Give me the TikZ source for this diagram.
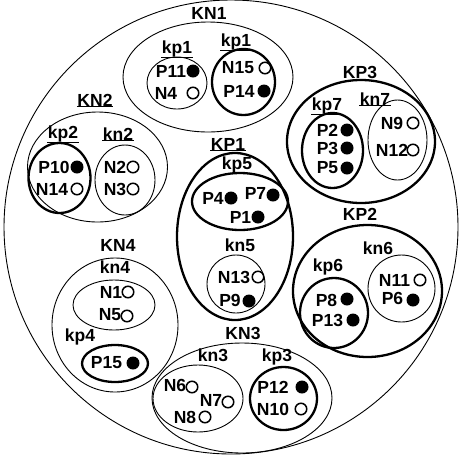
\documentclass[tikz,border=0pt]{standalone}
\usepackage{fontspec}
\setmainfont{Liberation Sans}
\usetikzlibrary{shapes.geometric}
\tikzset{
  thinl/.style={line width=0.9pt},
  thickl/.style={line width=2.3pt},
  ell/.style={ellipse, inner sep=0pt, outer sep=0pt},
  thinell/.style={ell, draw, thinl},
  thickell/.style={ell, draw, thickl},
  txt/.style={font=\fontsize{17.5}{19}\selectfont\bfseries, inner sep=0.4pt},
  fdot/.style={circle, fill=black, inner sep=0pt, minimum size=13pt},
  odot/.style={circle, draw, line width=1.5pt, inner sep=0pt, minimum size=11.5pt},
}
\newcommand{\myell}[6]{\node[#1, minimum width=#4pt, minimum height=#5pt] (#6) at (#2,#3) {};}
\newcommand{\mylab}[4]{\node[txt] (#1) at (#2,#3) {#4};}
\newcommand{\myul}[1]{\draw[thinl] (#1.south west) -- (#1.south east);}
\newcommand{\myitem}[7]{\node[txt] (#1) at (#2,#3) {#1}; \node[#4] (d#1) at (#5,#6) {};}
\begin{document}
\begin{tikzpicture}[x=1pt,y=-1pt]
\useasboundingbox (0,0) rectangle (463,459);
\node[circle, draw, thinl, inner sep=0pt, minimum size=454pt] (outer) at (231,227) {};
% KN1
\myell{thinell}{208}{77}{170}{110}{KN1}
\mylab{lKN1}{209}{13}{KN1}
\myell{thinell}{177}{83}{60}{52}{kp1a}
\mylab{lkp1a}{177}{49}{kp1}\myul{lkp1a}
\myell{thickell}{243.5}{82}{63}{66}{kp1b}
\mylab{lkp1b}{236}{42}{kp1}\myul{lkp1b}
\myitem{P11}{171}{71}{fdot}{193}{71}{}
\myitem{N4}{166}{93}{odot}{193}{93}{}
\myitem{N15}{238}{68}{odot}{265}{68}{}
\myitem{P14}{239}{91}{fdot}{264}{91}{}
% KN2
\myell{thinell}{97.5}{167}{140}{110}{KN2}
\mylab{lKN2}{95}{100}{KN2}\myul{lKN2}
\myell{thickell}{59.5}{178}{62}{70}{kp2}
\mylab{lkp2}{63}{134}{kp2}\myul{lkp2}
\myell{thinell}{125}{180}{60}{70}{kn2}
\mylab{lkn2}{118}{134}{kn2}\myul{lkn2}
\myitem{P10}{54}{167}{fdot}{77}{167}{}
\myitem{N14}{52}{189}{odot}{77}{189}{}
\myitem{N2}{115}{167}{odot}{133}{167}{}
\myitem{N3}{115}{189}{odot}{133}{189}{}
% KP3
\myell{thickell}{361}{141.5}{148}{123}{KP3}
\mylab{lKP3}{360}{72}{KP3}
\myell{thickell}{332.5}{150.5}{61}{75}{kp7}
\mylab{lkp7}{327}{106}{kp7}\myul{lkp7}
\myell{thinell}{397.5}{140}{59}{80}{kn7}
\mylab{lkn7}{375}{99}{kn7}\myul{lkn7}
\myitem{P2}{327.5}{130}{fdot}{347}{130}{}
\myitem{P3}{327.5}{148}{fdot}{347}{148}{}
\myitem{P5}{327.5}{168}{fdot}{347}{168}{}
\myitem{N9}{392}{123}{odot}{413}{123}{}
\myitem{N12}{392}{150}{odot}{413}{150}{}
% KP1
\myell{thickell}{235}{236.5}{116}{167}{KP1}
\mylab{lKP1}{228}{144}{KP1}\myul{lKP1}
\myell{thickell}{240}{201.5}{96}{57}{kp5}
\mylab{lkp5}{237}{165}{kp5}
\myell{thinell}{236}{284}{58}{58}{kn5}
\mylab{lkn5}{240}{245}{kn5}
\myitem{P4}{213}{198}{fdot}{231}{198}{}
\myitem{P7}{255.5}{193}{fdot}{273}{195}{}
\myitem{P1}{240.5}{217}{fdot}{258}{217}{}
\myitem{N13}{234}{277}{odot}{258}{277}{}
\myitem{P9}{230}{300}{fdot}{249}{301}{}
% KP2
\myell{thickell}{367.5}{291}{149}{132}{KP2}
\mylab{lKP2}{360}{214}{KP2}
\myell{thinell}{401.5}{288.5}{67}{67}{kn6}
\mylab{lkn6}{378}{248}{kn6}
\myell{thickell}{334}{313}{68}{70}{kp6}
\mylab{lkp6}{328}{267}{kp6}
\myitem{N11}{394.5}{280}{odot}{420}{280}{}
\myitem{P6}{392.5}{298}{fdot}{413}{300}{}
\myitem{P8}{326.5}{300}{fdot}{347}{299}{}
\myitem{P13}{327.5}{320}{fdot}{353}{320}{}
% KN4
\myell{thinell}{115}{325}{126}{134}{KN4}
\mylab{lKN4}{118}{245}{KN4}
\myell{thinell}{114}{305}{82}{50}{kn4}
\mylab{lkn4}{115}{267}{kn4}
\myell{thickell}{115}{363.5}{66}{37}{kp4}
\mylab{lkp4}{80}{337}{kp4}
\myitem{N1}{111}{292}{odot}{128}{292}{}
\myitem{N5}{110}{315}{odot}{127}{316}{}
\myitem{P15}{106.5}{363}{fdot}{133}{363}{}
% KN3
\myell{thinell}{242}{398}{180}{110}{KN3}
\mylab{lKN3}{243}{333}{KN3}
\myell{thinell}{198}{398.5}{90}{67}{kn3}
\mylab{lkn3}{213}{355}{kn3}
\myell{thickell}{283.5}{398.5}{67}{63}{kp3}
\mylab{lkp3}{277}{357}{kp3}
\myitem{N6}{175}{385}{odot}{192}{387}{}
\myitem{N7}{211}{400}{odot}{228}{402}{}
\myitem{N8}{185}{417}{odot}{205}{417}{}
\myitem{P12}{273}{387}{fdot}{302}{387}{}
\myitem{N10}{273}{409}{odot}{301}{409}{}
\end{tikzpicture}
\end{document}
